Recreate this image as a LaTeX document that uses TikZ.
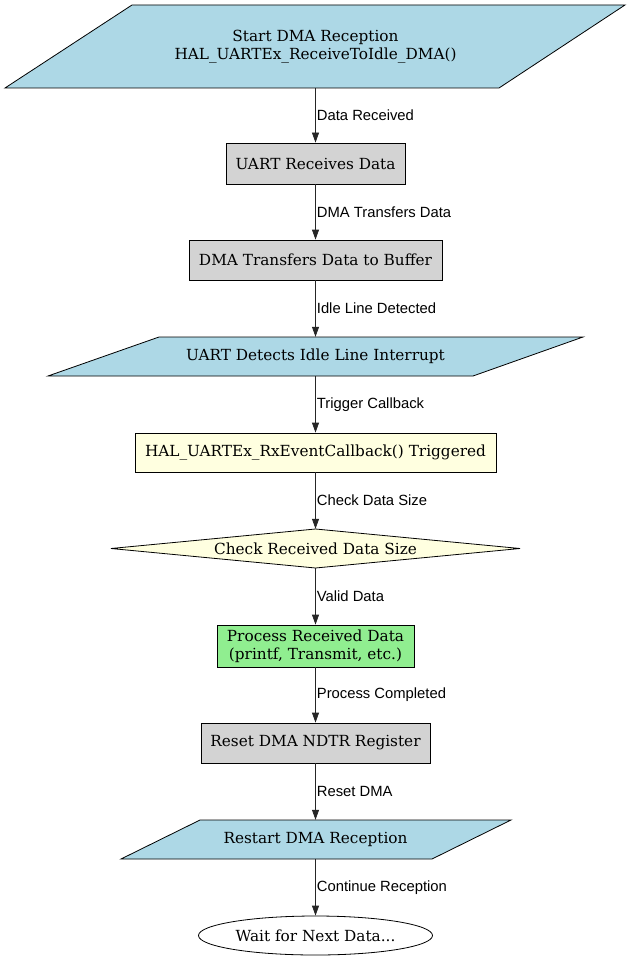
\documentclass[tikz,border=0pt]{standalone}
\usepackage{fontspec}
\setmainfont{DejaVu Serif}
\newfontfamily\labf{Liberation Sans}
\newfontfamily\nodef{DejaVu Serif}
\usetikzlibrary{arrows.meta,shapes.geometric}
\definecolor{lblue}{HTML}{ADD8E6}
\definecolor{lgray}{HTML}{D3D3D3}
\definecolor{lyellow}{HTML}{FFFFE0}
\definecolor{lgreen}{HTML}{90EE90}
\begin{document}
\begin{tikzpicture}[x=1pt,y=-1pt,
  nfont/.style={font=\nodef\fontsize{15.3}{17.6}\selectfont, align=center},
  rectbox/.style={nfont, draw=black, line width=0.8pt, inner sep=0pt},
  holder/.style={nfont, inner sep=0pt, minimum width=100pt},
  outline/.style={draw=black, line width=0.8pt},
  conn/.style={-{Triangle[length=10pt,width=7pt]}, line width=0.8pt, draw=black!85},
  elabel/.style={font=\labf\fontsize{14.8}{17}\selectfont, anchor=west, inner xsep=1pt, text=black}]
\useasboundingbox (0,0) rectangle (632,960);
\fill[white] (0,0) rectangle (632,960);

% n1 parallelogram
\filldraw[outline, fill=lblue] (132,5) -- (625,5) -- (499,88) -- (5,88) -- cycle;
\node[holder, minimum height=83pt] (n1) at (315.5,46.5) {Start DMA Reception\\HAL\_UARTEx\_ReceiveToIdle\_DMA()};

\node[rectbox, fill=lgray, minimum width=179pt, minimum height=41pt] (n2) at (315.5,163.5) {UART Receives Data};

\node[rectbox, fill=lgray, minimum width=253pt, minimum height=40pt] (n3) at (315.5,260) {DMA Transfers Data to Buffer};

\filldraw[outline, fill=lblue] (159,337) -- (583,337) -- (473,376) -- (48,376) -- cycle;
\node[holder, minimum height=39pt] (n4) at (315.5,356.5) {UART Detects Idle Line Interrupt};

\node[rectbox, fill=lyellow, minimum width=361pt, minimum height=39pt] (n5) at (315.5,452.5) {HAL\_UARTEx\_RxEventCallback() Triggered};

\filldraw[outline, fill=lyellow] (111,548.5) -- (315.5,529) -- (520,548.5) -- (315.5,568) -- cycle;
\node[holder, minimum height=39pt] (n6) at (315.5,548.5) {Check Received Data Size};

\node[rectbox, fill=lgreen, minimum width=197pt, minimum height=42pt] (n7) at (315.5,646) {Process Received Data\\(printf, Transmit, etc.)};

\node[rectbox, fill=lgray, minimum width=229pt, minimum height=40pt] (n8) at (315.5,743) {Reset DMA NDTR Register};

\filldraw[outline, fill=lblue] (200,820) -- (511,820) -- (432,859) -- (121,859) -- cycle;
\node[holder, minimum height=39pt] (n9) at (315.5,839.5) {Restart DMA Reception};

\node[rectbox, ellipse, fill=white, minimum width=234pt, minimum height=39pt] (n10) at (315.5,935.5) {Wait for Next Data...};

\draw[conn] (n1.south) -- node[elabel]{Data Received} (n2.north);
\draw[conn] (n2.south) -- node[elabel]{DMA Transfers Data} (n3.north);
\draw[conn] (n3.south) -- node[elabel]{Idle Line Detected} (n4.north);
\draw[conn] (n4.south) -- node[elabel]{Trigger Callback} (n5.north);
\draw[conn] (n5.south) -- node[elabel]{Check Data Size} (n6.north);
\draw[conn] (n6.south) -- node[elabel]{Valid Data} (n7.north);
\draw[conn] (n7.south) -- node[elabel]{Process Completed} (n8.north);
\draw[conn] (n8.south) -- node[elabel]{Reset DMA} (n9.north);
\draw[conn] (n9.south) -- node[elabel]{Continue Reception} (n10.north);
\end{tikzpicture}
\end{document}
